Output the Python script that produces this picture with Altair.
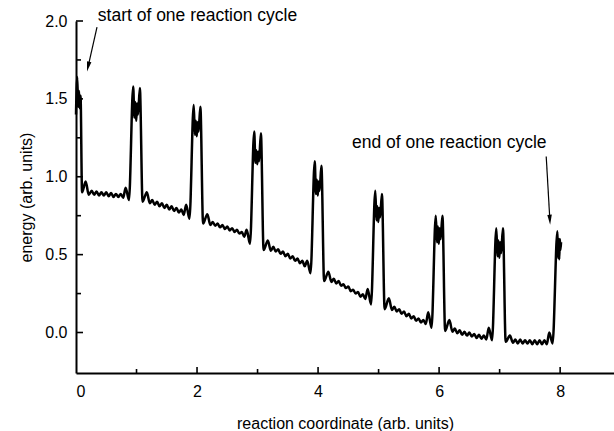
import altair as alt
import pandas as pd

# ---- curve data (reaction coordinate, energy) ----
c0_x = [0.0, 0.02, 0.035, 0.05, 0.06, 0.075, 0.10, 0.16, 0.21,
        0.26, 0.30, 0.34, 0.38, 0.42, 0.46, 0.50, 0.54, 0.58, 0.62, 0.66, 0.70, 0.74, 0.78,
        0.82, 0.875]
c0_y = [1.40, 1.64, 1.45, 1.55, 1.44, 1.52, 0.90, 0.97, 0.885,
        0.91, 0.885, 0.905, 0.88, 0.90, 0.88, 0.90, 0.875, 0.895, 0.87, 0.89, 0.87, 0.89, 0.865,
        0.93, 0.85]

c1_x = [0.945, 0.965, 0.98, 0.995, 1.01, 1.025, 1.055, 1.10, 1.17, 1.22,
        1.26, 1.30, 1.34, 1.38, 1.42, 1.46, 1.50, 1.54, 1.58, 1.62, 1.66, 1.70, 1.74, 1.78,
        1.82, 1.875]
c1_y = [1.58, 1.38, 1.48, 1.36, 1.47, 1.40, 1.57, 0.84, 0.90, 0.83,
        0.85, 0.82, 0.84, 0.81, 0.83, 0.80, 0.82, 0.79, 0.81, 0.78, 0.80, 0.77, 0.79, 0.755,
        0.82, 0.73]

c2_x = [1.945, 1.965, 1.98, 1.995, 2.01, 2.025, 2.055, 2.10, 2.17, 2.22,
        2.26, 2.30, 2.34, 2.38, 2.42, 2.46, 2.50, 2.54, 2.58, 2.62, 2.66, 2.70, 2.74, 2.78,
        2.82, 2.875]
c2_y = [1.46, 1.27, 1.36, 1.26, 1.35, 1.29, 1.45, 0.70, 0.76, 0.69,
        0.71, 0.685, 0.70, 0.675, 0.69, 0.665, 0.68, 0.655, 0.67, 0.645, 0.66, 0.635, 0.645, 0.615,
        0.66, 0.57]

c3_x = [2.945, 2.965, 2.98, 2.995, 3.01, 3.025, 3.055, 3.10, 3.17, 3.22,
        3.26, 3.30, 3.34, 3.38, 3.42, 3.46, 3.50, 3.54, 3.58, 3.62, 3.66, 3.70, 3.74, 3.78,
        3.82, 3.875]
c3_y = [1.29, 1.09, 1.17, 1.08, 1.16, 1.10, 1.28, 0.53, 0.59, 0.525,
        0.55, 0.52, 0.535, 0.505, 0.52, 0.49, 0.505, 0.475, 0.49, 0.46, 0.475, 0.445, 0.46, 0.425,
        0.46, 0.38]

c4_x = [3.945, 3.965, 3.98, 3.995, 4.01, 4.025, 4.055, 4.10, 4.17, 4.22,
        4.26, 4.30, 4.34, 4.38, 4.42, 4.46, 4.50, 4.54, 4.58, 4.62, 4.66, 4.70, 4.74, 4.78,
        4.82, 4.875]
c4_y = [1.10, 0.89, 0.98, 0.88, 0.97, 0.91, 1.07, 0.33, 0.39, 0.325,
        0.345, 0.315, 0.33, 0.30, 0.31, 0.285, 0.295, 0.265, 0.275, 0.25, 0.26, 0.23, 0.245, 0.215,
        0.28, 0.18]

c5_x = [4.945, 4.965, 4.98, 4.995, 5.01, 5.025, 5.055, 5.10, 5.17, 5.22,
        5.26, 5.30, 5.34, 5.38, 5.42, 5.46, 5.50, 5.54, 5.58, 5.62, 5.66, 5.70, 5.74, 5.78,
        5.82, 5.875]
c5_y = [0.91, 0.72, 0.81, 0.71, 0.80, 0.74, 0.89, 0.15, 0.22, 0.145,
        0.165, 0.135, 0.15, 0.12, 0.135, 0.105, 0.12, 0.09, 0.105, 0.075, 0.09, 0.065, 0.08, 0.055,
        0.13, 0.03]

c6_x = [5.945, 5.965, 5.98, 5.995, 6.01, 6.025, 6.055, 6.10, 6.17, 6.22,
        6.26, 6.30, 6.34, 6.38, 6.42, 6.46, 6.50, 6.54, 6.58, 6.62, 6.66, 6.70, 6.74, 6.78,
        6.82, 6.875]
c6_y = [0.75, 0.58, 0.68, 0.57, 0.67, 0.60, 0.75, 0.01, 0.08, 0.005,
        0.025, -0.005, 0.015, -0.015, 0.005, -0.02, 0.0, -0.025, -0.01, -0.035, -0.015, -0.04, -0.02, -0.045,
        0.03, -0.05]

c7_x = [6.945, 6.965, 6.98, 6.995, 7.01, 7.025, 7.055, 7.10, 7.17, 7.22,
        7.26, 7.30, 7.34, 7.38, 7.42, 7.46, 7.50, 7.54, 7.58, 7.62, 7.66, 7.70, 7.74, 7.78,
        7.82, 7.875]
c7_y = [0.67, 0.49, 0.59, 0.48, 0.58, 0.51, 0.67, -0.06, -0.02, -0.065,
        -0.045, -0.07, -0.045, -0.07, -0.05, -0.07, -0.05, -0.075, -0.05, -0.075, -0.05, -0.075, -0.05, -0.075,
        0.0, -0.07]

c8_x = [7.955, 7.965, 7.975, 7.985, 7.995, 8.005, 8.015]
c8_y = [0.65, 0.48, 0.60, 0.47, 0.60, 0.53, 0.58]

# ---- axes ----
x_labels = [0, 2, 4, 6, 8]
x_minor = [1, 3, 5, 7]
y_labels = [0.0, 0.5, 1.0, 1.5, 2.0]
y_minor = [0.25, 0.75, 1.25, 1.75]

# ---- annotations ----
note_text = ["start of one reaction cycle", "end of one reaction cycle"]
note_x = [0.36, 4.56]
note_y = [2.03, 1.215]
arrow_x1 = [0.347, 7.77]
arrow_y1 = [1.96, 1.13]
arrow_x2 = [0.20, 7.83]
arrow_y2 = [1.707, 0.724]
arrow_angle = [192.8, 176.7]

W, H = 538, 352
FONT = "Liberation Sans"

xs, ys = [], []
for cx, cy in [(c0_x, c0_y), (c1_x, c1_y), (c2_x, c2_y), (c3_x, c3_y), (c4_x, c4_y),
               (c5_x, c5_y), (c6_x, c6_y), (c7_x, c7_y), (c8_x, c8_y)]:
    xs += cx
    ys += cy
curve = pd.DataFrame({"x": xs, "y": ys, "i": range(len(xs))})

xscale = alt.Scale(domain=[0, 8.89], nice=False, zero=False)
yscale = alt.Scale(domain=[-0.26, 2.0], nice=False, zero=False)

XAXIS = alt.Axis(values=x_labels, title="reaction coordinate (arb. units)", format="d",
                 tickSize=0, labelPadding=10, titleX=W / 2, titleY=50,
                 titleBaseline="middle", titleAlign="center")
YAXIS = alt.Axis(values=y_labels, title="energy (arb. units)", format=".1f",
                 tickSize=0, labelPadding=9, titleX=-50, titleY=H / 2,
                 titleAngle=270, titleBaseline="middle", titleAlign="center")

def X(f):
    return alt.X(f, scale=xscale, axis=XAXIS)

def Y(f):
    return alt.Y(f, scale=yscale, axis=YAXIS)

line = alt.Chart(curve).mark_line(color="black", strokeWidth=2.5, interpolate="monotone").encode(
    x=X("x:Q"), y=Y("y:Q"), order="i:Q")

def xticks(vals, ln):
    return alt.Chart(pd.DataFrame({"x": vals})).mark_rule(color="black", strokeWidth=1.6).encode(
        x=X("x:Q"), y=alt.value(H), y2=alt.value(H - ln))

def yticks(vals, ln):
    return alt.Chart(pd.DataFrame({"y": vals})).mark_rule(color="black", strokeWidth=1.6).encode(
        y=Y("y:Q"), x=alt.value(0), x2=alt.value(ln))

notes = pd.DataFrame({"t": note_text, "x": note_x, "y": note_y})
text = alt.Chart(notes).mark_text(align="left", baseline="middle", fontSize=17.5, font=FONT,
                                  color="black").encode(x=X("x:Q"), y=Y("y:Q"), text="t:N")

arrows = pd.DataFrame({"x1": arrow_x1, "y1": arrow_y1, "x2": arrow_x2, "y2": arrow_y2,
                       "a": arrow_angle})
shafts = alt.Chart(arrows).mark_rule(color="black", strokeWidth=1.2).encode(
    x=X("x1:Q"), y=Y("y1:Q"), x2="x2:Q", y2="y2:Q")
heads = alt.Chart(arrows).mark_point(shape="M0,-1L0.45,1L-0.45,1Z", filled=True, size=100,
                                     color="black", opacity=1).encode(
    x=X("x2:Q"), y=Y("y2:Q"), angle=alt.Angle("a:Q", scale=None))

chart = alt.layer(
    line, xticks(x_labels[1:], 6), xticks(x_minor, 4), yticks(y_labels, 7), yticks(y_minor, 5),
    text, shafts, heads
).properties(
    width=W, height=H,
    autosize=alt.AutoSizeParams(type="none"),
    padding={"left": 76, "top": 21, "right": 0, "bottom": 58},
).configure_view(stroke=None).configure_axis(
    grid=False, domainColor="black", domainWidth=2, labelColor="black", titleColor="black",
    labelFont=FONT, titleFont=FONT, labelFontSize=16, titleFontSize=16, titleFontWeight="normal",
)

chart.save("out.html", embed_options={"renderer": "svg", "actions": False})
